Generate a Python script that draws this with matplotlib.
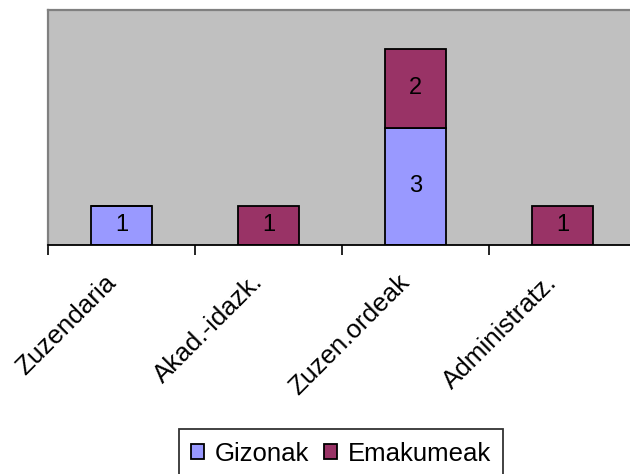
import numpy as np
import matplotlib
matplotlib.use("Agg")
import matplotlib.pyplot as plt
import matplotlib.transforms as mtransforms

plt.rcParams['font.family'] = ['Liberation Sans', 'DejaVu Sans']

# ---------------------------------------------------------
# Data
# ---------------------------------------------------------
categories = ["Zuzendaria", "Akad.-idazk.", "Zuzen.ordeak", "Administratz."]
gizonak = [1, 0, 3, 0]
emakumeak = [0, 1, 2, 1]

# ---------------------------------------------------------
# Figure
# ---------------------------------------------------------
fig = plt.figure(figsize=(6.30, 4.74), dpi=100)
ax = fig.add_axes([48 / 630, 229 / 474, 588 / 630, 235 / 474])
ax.set_facecolor("#C0C0C0")

x = np.arange(len(categories))
width = 0.41

b1 = ax.bar(x, gizonak, width, color="#9999FF", edgecolor="black",
            linewidth=1.3, label="Gizonak")
b2 = ax.bar(x, emakumeak, width, bottom=gizonak, color="#993366",
            edgecolor="black", linewidth=1.3, label="Emakumeak")

# value labels in the middle of each non-empty segment
for i in range(len(categories)):
    if gizonak[i] > 0:
        ax.text(x[i], gizonak[i] / 2, str(gizonak[i]),
                ha="center", va="center", fontsize=17)
    if emakumeak[i] > 0:
        ax.text(x[i], gizonak[i] + emakumeak[i] / 2, str(emakumeak[i]),
                ha="center", va="center", fontsize=17)

ax.set_xlim(-0.5, len(categories) - 0.5)
ax.set_ylim(0, 6)
ax.set_yticks([])

# ticks on category boundaries, labels at centres
ax.set_xticks(np.arange(len(categories)) - 0.5)
ax.set_xticklabels([])
ax.tick_params(axis="x", length=7, width=1.2, direction="out", color="black")
ax.set_xticks(x, minor=True)
ax.set_xticklabels(categories, minor=True, rotation=45, ha="right",
                   rotation_mode="anchor", fontsize=18.7)
ax.tick_params(axis="x", which="minor", length=0, pad=18)

shift = mtransforms.ScaledTranslation(-18 / 100, 0, fig.dpi_scale_trans)
for lab in ax.get_xticklabels(minor=True):
    lab.set_transform(lab.get_transform() + shift)

for side in ["left", "top", "right"]:
    ax.spines[side].set_color("#808080")
    ax.spines[side].set_linewidth(1.6)
ax.spines["bottom"].set_color("black")
ax.spines["bottom"].set_linewidth(1.3)

leg = fig.legend(handles=[b1, b2], loc="upper center",
                 bbox_to_anchor=(341 / 630, 45 / 474), ncol=2,
                 fontsize=18.5, frameon=True, fancybox=False,
                 handlelength=0.5, handleheight=0.5, handletextpad=0.4,
                 columnspacing=0.6, borderpad=0.5, borderaxespad=0)
leg.get_frame().set_edgecolor("black")
leg.get_frame().set_linewidth(1.3)

fig.savefig("out.png", dpi=100)
